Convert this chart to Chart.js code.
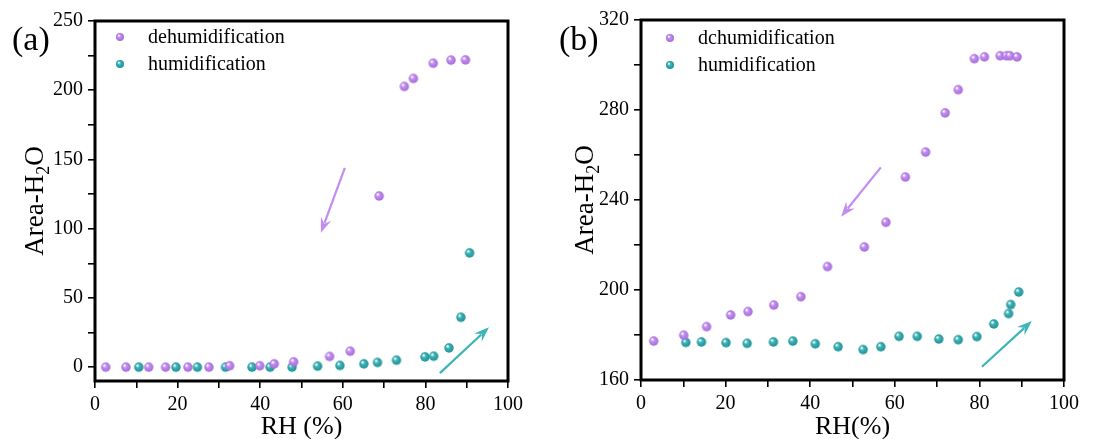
<!DOCTYPE html>
<html>
<head>
<meta charset="utf-8">
<script src="https://cdn.jsdelivr.net/npm/chart.js@4.4.1/dist/chart.umd.min.js"></script>
<style>
  body { margin: 0; background: #fff; }
  .panel { position: absolute; top: 0; width: 556px; height: 439px; }
</style>
</head>
<body>
<div class="panel" style="left:0"><canvas id="chartA" width="556" height="439"></canvas></div>
<div class="panel" style="left:556px"><canvas id="chartB" width="556" height="439"></canvas></div>
<script>
// panel (a)
const aDehumRH   = [2.6, 7.5, 13.0, 17.1, 22.5, 27.6, 32.6, 39.9, 43.4, 48.1, 56.8, 61.8, 68.8, 74.9, 77.1, 81.9, 86.2, 89.7];
const aDehumArea = [0, 0, 0, 0, 0, 0, 1, 1, 2.4, 3.8, 7.7, 11.5, 123.6, 202.7, 208.5, 219.5, 221.7, 221.9];
const aHumRH     = [10.6, 19.6, 24.8, 31.6, 38.0, 42.4, 47.7, 53.9, 59.3, 65.1, 68.4, 73.0, 79.9, 82.0, 85.7, 88.6, 90.7];
const aHumArea   = [0, 0, 0, 0, 0, 0, 0, 0.7, 1.2, 2.4, 3.4, 5.0, 7.4, 7.9, 13.9, 36.0, 82.5];

// panel (b)
const bDehumRH   = [3.0, 10.1, 15.5, 21.2, 25.3, 31.4, 37.8, 44.1, 52.8, 57.9, 62.5, 67.3, 71.9, 75.0, 78.8, 81.2, 84.9, 86.4, 87.2, 88.9];
const bDehumArea = [177.3, 179.9, 183.7, 188.9, 190.4, 193.3, 197.0, 210.4, 219.1, 230.1, 250.2, 261.3, 278.7, 289.0, 302.8, 303.6, 304.1, 304.1, 304.1, 303.6];
const bHumRH     = [10.6, 14.3, 20.1, 25.1, 31.3, 35.9, 41.2, 46.6, 52.5, 56.7, 61.0, 65.3, 70.4, 75.0, 79.4, 83.4, 86.9, 87.4, 89.3];
const bHumArea   = [176.7, 176.9, 176.6, 176.3, 176.9, 177.3, 176.1, 174.8, 173.5, 174.8, 179.4, 179.4, 178.2, 177.9, 179.3, 184.9, 189.5, 193.5, 199.1];

// arrows, [x1, y1, x2, y2] in data units (tail -> head)
const aArrowDehum = [60.5, 144, 54.7, 97];
const aArrowHum   = [83.5, -4.3, 95.4, 28.8];
const bArrowDehum = [56.7, 254.5, 47.3, 232.6];
const bArrowHum   = [80.6, 165.9, 92.4, 186.2];

const SERIF = "'Liberation Serif', 'Times New Roman', serif";
const PURPLE = '#c28df1';
const TEAL = '#3bb5b7';

function makeBall(base, dark, r) {
  const c = document.createElement('canvas');
  const s = Math.ceil(r * 2 + 2);
  c.width = c.height = s;
  const ctx = c.getContext('2d');
  const g = ctx.createRadialGradient(s / 2 - r * 0.35, s / 2 - r * 0.4, r * 0.1, s / 2, s / 2, r);
  g.addColorStop(0, '#ffffff');
  g.addColorStop(0.35, base);
  g.addColorStop(1, dark);
  ctx.fillStyle = g;
  ctx.beginPath();
  ctx.arc(s / 2, s / 2, r, 0, Math.PI * 2);
  ctx.fill();
  return c;
}

const purpleBall = makeBall(PURPLE, '#a66ad9', 4.7);
const tealBall = makeBall(TEAL, '#1f8f95', 4.7);
const purpleKey = makeBall(PURPLE, '#a66ad9', 4);
const tealKey = makeBall(TEAL, '#1f8f95', 4);

function toPoints(xs, ys) {
  return xs.map((x, i) => ({ x: x, y: ys[i] }));
}

function drawArrow(ctx, x1, y1, x2, y2, color) {
  const ang = Math.atan2(y2 - y1, x2 - x1);
  const head = 15, half = 5.5;
  const c = Math.cos(ang), s = Math.sin(ang);
  ctx.save();
  ctx.strokeStyle = color;
  ctx.fillStyle = color;
  ctx.lineWidth = 2.2;
  ctx.beginPath();
  ctx.moveTo(x1, y1);
  ctx.lineTo(x2 - c * head * 0.7, y2 - s * head * 0.7);
  ctx.stroke();
  ctx.beginPath();
  ctx.moveTo(x2, y2);
  ctx.lineTo(x2 - c * head - s * half, y2 - s * head + c * half);
  ctx.lineTo(x2 - c * head * 0.65, y2 - s * head * 0.65);
  ctx.lineTo(x2 - c * head + s * half, y2 - s * head - c * half);
  ctx.closePath();
  ctx.fill();
  ctx.restore();
}

// frame, arrows, legend, titles and panel letter
function decorPlugin(cfg) {
  return {
    id: 'decor',
    afterDraw(chart) {
      const ctx = chart.ctx;
      const area = chart.chartArea;
      const xs = chart.scales.x, ys = chart.scales.y;

      ctx.save();
      ctx.strokeStyle = '#000';
      ctx.lineWidth = 3;
      ctx.strokeRect(area.left, area.top, area.right - area.left, area.bottom - area.top);
      ctx.restore();

      cfg.arrows.forEach(a => {
        drawArrow(ctx, xs.getPixelForValue(a[0]), ys.getPixelForValue(a[1]),
          xs.getPixelForValue(a[2]), ys.getPixelForValue(a[3]), a[4]);
      });

      ctx.save();
      ctx.fillStyle = '#000';
      ctx.textBaseline = 'middle';
      ctx.font = '20px ' + SERIF;
      cfg.legend.forEach((item, i) => {
        const y = cfg.legendY + i * 27;
        ctx.drawImage(item.ball, cfg.legendX - item.ball.width / 2, y - item.ball.height / 2);
        ctx.fillText(item.label, cfg.legendX + 28, y + 1);
      });

      // panel letter
      ctx.textBaseline = 'alphabetic';
      ctx.font = '34px ' + SERIF;
      ctx.fillText(cfg.letter, cfg.letterX, 50);

      // x title
      ctx.font = '26px ' + SERIF;
      ctx.textAlign = 'center';
      ctx.fillText(cfg.xTitle, (area.left + area.right) / 2, 434);

      // y title with subscript
      ctx.textAlign = 'left';
      ctx.translate(cfg.yTitleX, (area.top + area.bottom) / 2);
      ctx.rotate(-Math.PI / 2);
      ctx.font = '27px ' + SERIF;
      const w1 = ctx.measureText('Area-H').width;
      const w3 = ctx.measureText('O').width;
      ctx.font = '18px ' + SERIF;
      const w2 = ctx.measureText('2').width;
      let x = -(w1 + w2 + w3) / 2;
      ctx.font = '27px ' + SERIF;
      ctx.fillText('Area-H', x, 0);
      ctx.font = '18px ' + SERIF;
      ctx.fillText('2', x + w1, 6);
      ctx.font = '27px ' + SERIF;
      ctx.fillText('O', x + w1 + w2, 0);
      ctx.restore();
    }
  };
}

function makeChart(id, opts) {
  const tickFont = { family: SERIF, size: 20 };
  return new Chart(document.getElementById(id), {
    type: 'scatter',
    data: {
      datasets: [
        { label: 'dehumidification', data: opts.dehum, pointStyle: purpleBall, pointRadius: 5 },
        { label: 'humidification', data: opts.hum, pointStyle: tealBall, pointRadius: 5 }
      ]
    },
    options: {
      responsive: false,
      animation: false,
      layout: { padding: { left: 0, right: 48, top: opts.top, bottom: 0 } },
      plugins: { legend: { display: false }, tooltip: { enabled: false } },
      scales: {
        x: {
          type: 'linear',
          min: 0,
          max: 100,
          border: { display: false },
          grid: { drawOnChartArea: false, drawTicks: true, tickLength: 7, color: '#000', lineWidth: 1.6 },
          ticks: {
            stepSize: 10,
            autoSkip: false,
            maxRotation: 0,
            padding: 5,
            color: '#000',
            font: tickFont,
            callback: v => (v % 20 === 0 ? v : '')
          },
          afterFit: s => { s.height = opts.xHeight; }
        },
        y: {
          type: 'linear',
          min: opts.yMin,
          max: opts.yMax,
          border: { display: false },
          grid: { drawOnChartArea: false, drawTicks: true, tickLength: 7, color: '#000', lineWidth: 1.6 },
          ticks: {
            stepSize: opts.yStep,
            includeBounds: false,
            autoSkip: false,
            padding: 5,
            color: '#000',
            font: tickFont,
            callback: v => (v % opts.yLabelStep === 0 ? v : '')
          },
          afterFit: s => { s.width = opts.yWidth; }
        }
      }
    },
    plugins: [decorPlugin(opts.decor)]
  });
}

makeChart('chartA', {
  dehum: toPoints(aDehumRH, aDehumArea),
  hum: toPoints(aHumRH, aHumArea),
  yMin: -10, yMax: 250, yStep: 25, yLabelStep: 50,
  top: 21, xHeight: 58, yWidth: 95,
  decor: {
    arrows: [aArrowDehum.concat([PURPLE]), aArrowHum.concat([TEAL])],
    legend: [{ ball: purpleKey, label: 'dehumidification' }, { ball: tealKey, label: 'humidification' }],
    legendX: 120, legendY: 37,
    letter: '(a)', letterX: 12,
    xTitle: 'RH (%)',
    yTitleX: 43
  }
});

makeChart('chartB', {
  dehum: toPoints(bDehumRH, bDehumArea),
  hum: toPoints(bHumRH, bHumArea),
  yMin: 160, yMax: 320, yStep: 20, yLabelStep: 40,
  top: 20, xHeight: 59, yWidth: 85,
  decor: {
    arrows: [bArrowDehum.concat([PURPLE]), bArrowHum.concat([TEAL])],
    legend: [{ ball: purpleKey, label: 'dchumidification' }, { ball: tealKey, label: 'humidification' }],
    legendX: 114, legendY: 38,
    letter: '(b)', letterX: 3,
    xTitle: 'RH(%)',
    yTitleX: 37
  }
});
</script>
</body>
</html>
